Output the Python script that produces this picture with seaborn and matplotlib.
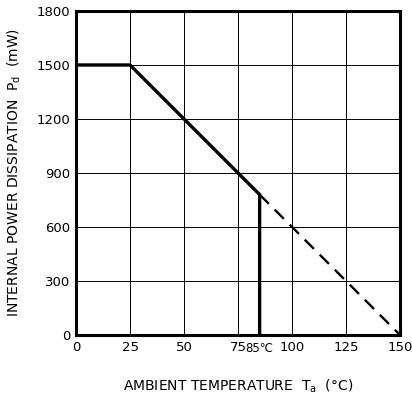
import numpy as np
import pandas as pd
import matplotlib
matplotlib.use("Agg")
import matplotlib.pyplot as plt
import seaborn as sns

# derating curve
temp_solid = [0, 25, 85, 85]
pd_solid = [1500, 1500, 780, 0]
temp_dash = [85, 150]
pd_dash = [780, 0]

x_ticks = [0, 25, 50, 75, 100, 125, 150]
x_tick_labels = ["0", "25", "50", "75", "100", "125", "150"]
x_extra_tick = [85]
x_extra_label = ["85\u2103"]
y_ticks = [0, 300, 600, 900, 1200, 1500, 1800]

sns.set_style("white")
plt.rcParams["font.family"] = ["DejaVu Sans"]
plt.rcParams["text.color"] = "black"
plt.rcParams["axes.labelcolor"] = "black"
plt.rcParams["xtick.color"] = "black"
plt.rcParams["ytick.color"] = "black"

fig = plt.figure(figsize=(4.12, 4.04), dpi=100)
ax = fig.add_axes([0.1845, 0.1708, 0.7865, 0.802])

solid = pd.DataFrame({"T": temp_solid, "P": pd_solid})
dash = pd.DataFrame({"T": temp_dash, "P": pd_dash})
sns.lineplot(data=solid, x="T", y="P", sort=False, estimator=None,
             color="black", linewidth=2.4, ax=ax, zorder=3)
sns.lineplot(data=dash, x="T", y="P", sort=False, estimator=None,
             color="black", linewidth=1.7, linestyle=(0, (5.5, 3.5)), ax=ax,
             zorder=3)

ax.set_xlim(0, 150)
ax.set_ylim(0, 1800)
ax.set_xticks(x_ticks)
ax.set_xticklabels(x_tick_labels)
ax.set_xticks(x_extra_tick, minor=True)
ax.set_xticklabels(x_extra_label, minor=True)
ax.set_yticks(y_ticks)
ax.grid(True, which="major", color="black", linewidth=0.7)
ax.tick_params(axis="both", which="major", length=0, labelsize=9.5, pad=4)
ax.tick_params(axis="x", which="minor", length=0, labelsize=8.5, pad=5)

for side in ["left", "right", "top", "bottom"]:
    ax.spines[side].set_visible(True)
    ax.spines[side].set_color("black")
    ax.spines[side].set_linewidth(2.2)

ax.set_xlabel("AMBIENT TEMPERATURE  T$_\\mathregular{a}$  (\u00b0C)", fontsize=10,
              labelpad=16)
ax.set_ylabel("INTERNAL POWER DISSIPATION  P$_\\mathregular{d}$  (mW)", fontsize=10,
              labelpad=10)

fig.savefig("out.png", dpi=100)
